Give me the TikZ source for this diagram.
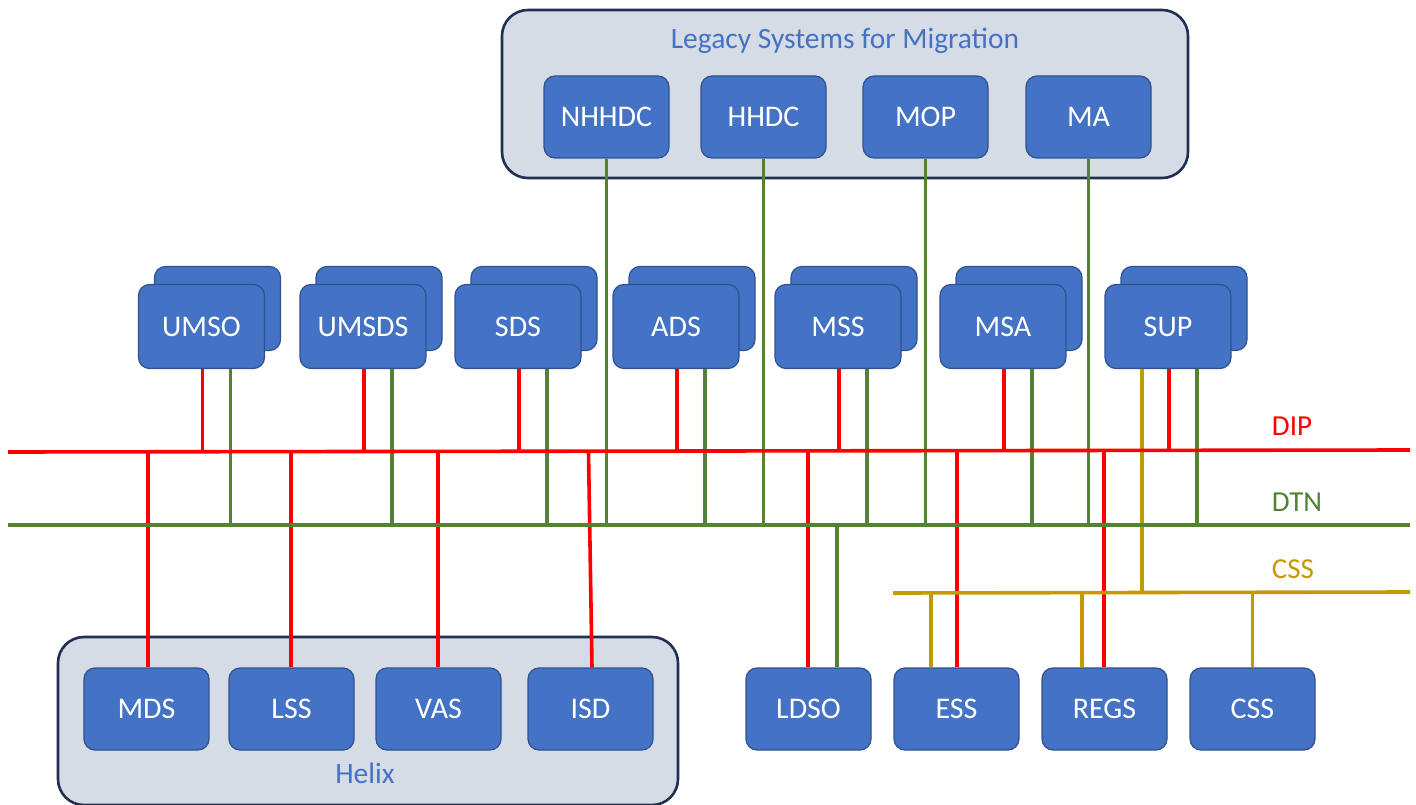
\documentclass[tikz,border=0pt]{standalone}
\usepackage{fontspec}
\setmainfont{Carlito}
\definecolor{boxblue}{HTML}{4472C4}
\definecolor{boxedge}{HTML}{2F528F}
\definecolor{grpfill}{HTML}{D6DCE5}
\definecolor{grpedge}{HTML}{1F3050}
\definecolor{dipred}{HTML}{FF0000}
\definecolor{dtngreen}{HTML}{548235}
\definecolor{cssgold}{HTML}{C49A00}
\begin{document}
\begin{tikzpicture}[x=1pt,y=-1pt,
  sysbox/.style={draw=boxedge,line width=1.2pt,fill=boxblue,rounded corners=11pt,
    minimum width=125pt,minimum height=82pt,inner sep=0pt,text=white,
    font=\fontsize{30}{36}\selectfont},
  backbox/.style={draw=boxedge,line width=1.2pt,fill=boxblue,rounded corners=11pt,
    minimum width=126pt,minimum height=84pt,inner sep=0pt},
  frontbox/.style={sysbox,minimum width=126pt,minimum height=84pt},
  group/.style={draw=grpedge,line width=2.6pt,fill=grpfill,rounded corners=26pt,inner sep=0pt},
  grplabel/.style={text=boxblue,font=\fontsize{29.5}{35}\selectfont,inner sep=0pt},
  dip/.style={draw=dipred,line width=3.6pt},
  dtn/.style={draw=dtngreen,line width=3.6pt},
  css/.style={draw=cssgold,line width=3.6pt},
  buslabel/.style={font=\fontsize{29}{35}\selectfont,inner sep=0pt}]
\useasboundingbox (0,0) rectangle (1416,805);
% groups
\node[group,minimum width=686pt,minimum height=168pt] (legacy) at (845,94) {};
\node[grplabel] (legacyT) at (845,41) {Legacy Systems for Migration};
\node[group,minimum width=620pt,minimum height=168pt] (helix) at (368,721) {};
\node[grplabel] (helixT) at (365,773) {Helix};
% bus lines
\coordinate (dipW) at (8,452); \coordinate (dipE) at (1410,450);
\coordinate (dtnW) at (8,525); \coordinate (dtnE) at (1410,525);
\coordinate (cssW) at (893,593); \coordinate (cssE) at (1410,592);
\node[buslabel,text=dipred] (dipT) at (1292,426) {DIP};
\node[buslabel,text=dtngreen] (dtnT) at (1297,502) {DTN};
\node[buslabel,text=cssgold] (cssT) at (1293,569) {CSS};
% legacy boxes
\node[sysbox] (nhhdc) at (606.5,117) {NHHDC};
\node[sysbox] (hhdc) at (763.5,117) {HHDC};
\node[sysbox] (mop) at (925.5,117) {MOP};
\node[sysbox] (ma) at (1088.5,117) {MA};
% middle stacked boxes
\foreach \n/\t/\x in {umso/UMSO/201.5,umsds/UMSDS/363,sds/SDS/518,ads/ADS/676,mss/MSS/838,msa/MSA/1003,sup/SUP/1168}{
  \node[backbox] (\n b) at (\x+16,308.5) {};
  \node[frontbox] (\n) at (\x,326.5) {\t};
}
% bottom boxes
\node[sysbox] (mds) at (146.5,709) {MDS};
\node[sysbox] (lss) at (291.5,709) {LSS};
\node[sysbox] (vas) at (438.5,709) {VAS};
\node[sysbox] (isd) at (590.5,709) {ISD};
\node[sysbox] (ldso) at (808.5,709) {LDSO};
\node[sysbox] (ess) at (956.5,709) {ESS};
\node[sysbox] (regs) at (1104.5,709) {REGS};
\node[sysbox] (cssb) at (1252.5,709) {CSS};
% connectors: DTN drops behind
\foreach \n in {nhhdc,hhdc,mop,ma}{
  \draw[dtn] (\n.south) -- (\n.south |- dtnW);
}
\foreach \n in {umso,umsds,sds,ads,mss,msa,sup}{
  \draw[dtn] ([xshift=29pt]\n.south) -- ([xshift=29pt]\n.south |- dtnW);
  \draw[dip] ([xshift=1pt]\n.south) -- ([xshift=1pt]\n.south |- dipW);
}
\draw[css] ([xshift=-26pt]sup.south) -- ([xshift=-26pt]sup.south |- cssW);
% DIP drops to bottom
\foreach \n/\d in {mds/1.5,lss/-0.5,vas/-0.5,ldso/-0.5,ess/0.5,regs/-0.5}{
  \draw[dip] ([xshift=\d pt]\n.north) -- ([xshift=\d pt]\n.north |- dipW);
}
\draw[dip] ([xshift=1.5pt]isd.north) -- ([xshift=-2pt]isd.north |- dipW);
\draw[dtn] ([xshift=28.5pt]ldso.north) -- ([xshift=28.5pt]ldso.north |- dtnW);
\draw[css] ([xshift=-25.5pt]ess.north) -- ([xshift=-25.5pt]ess.north |- cssW);
\draw[css] ([xshift=-22.5pt]regs.north) -- ([xshift=-22.5pt]regs.north |- cssW);
\draw[css] (cssb.north) -- (cssb.north |- cssW);
% buses
\draw[dip] (dipW) -- (dipE);
\draw[dtn] (dtnW) -- (dtnE);
\draw[css] (cssW) -- (cssE);
\end{tikzpicture}
\end{document}
